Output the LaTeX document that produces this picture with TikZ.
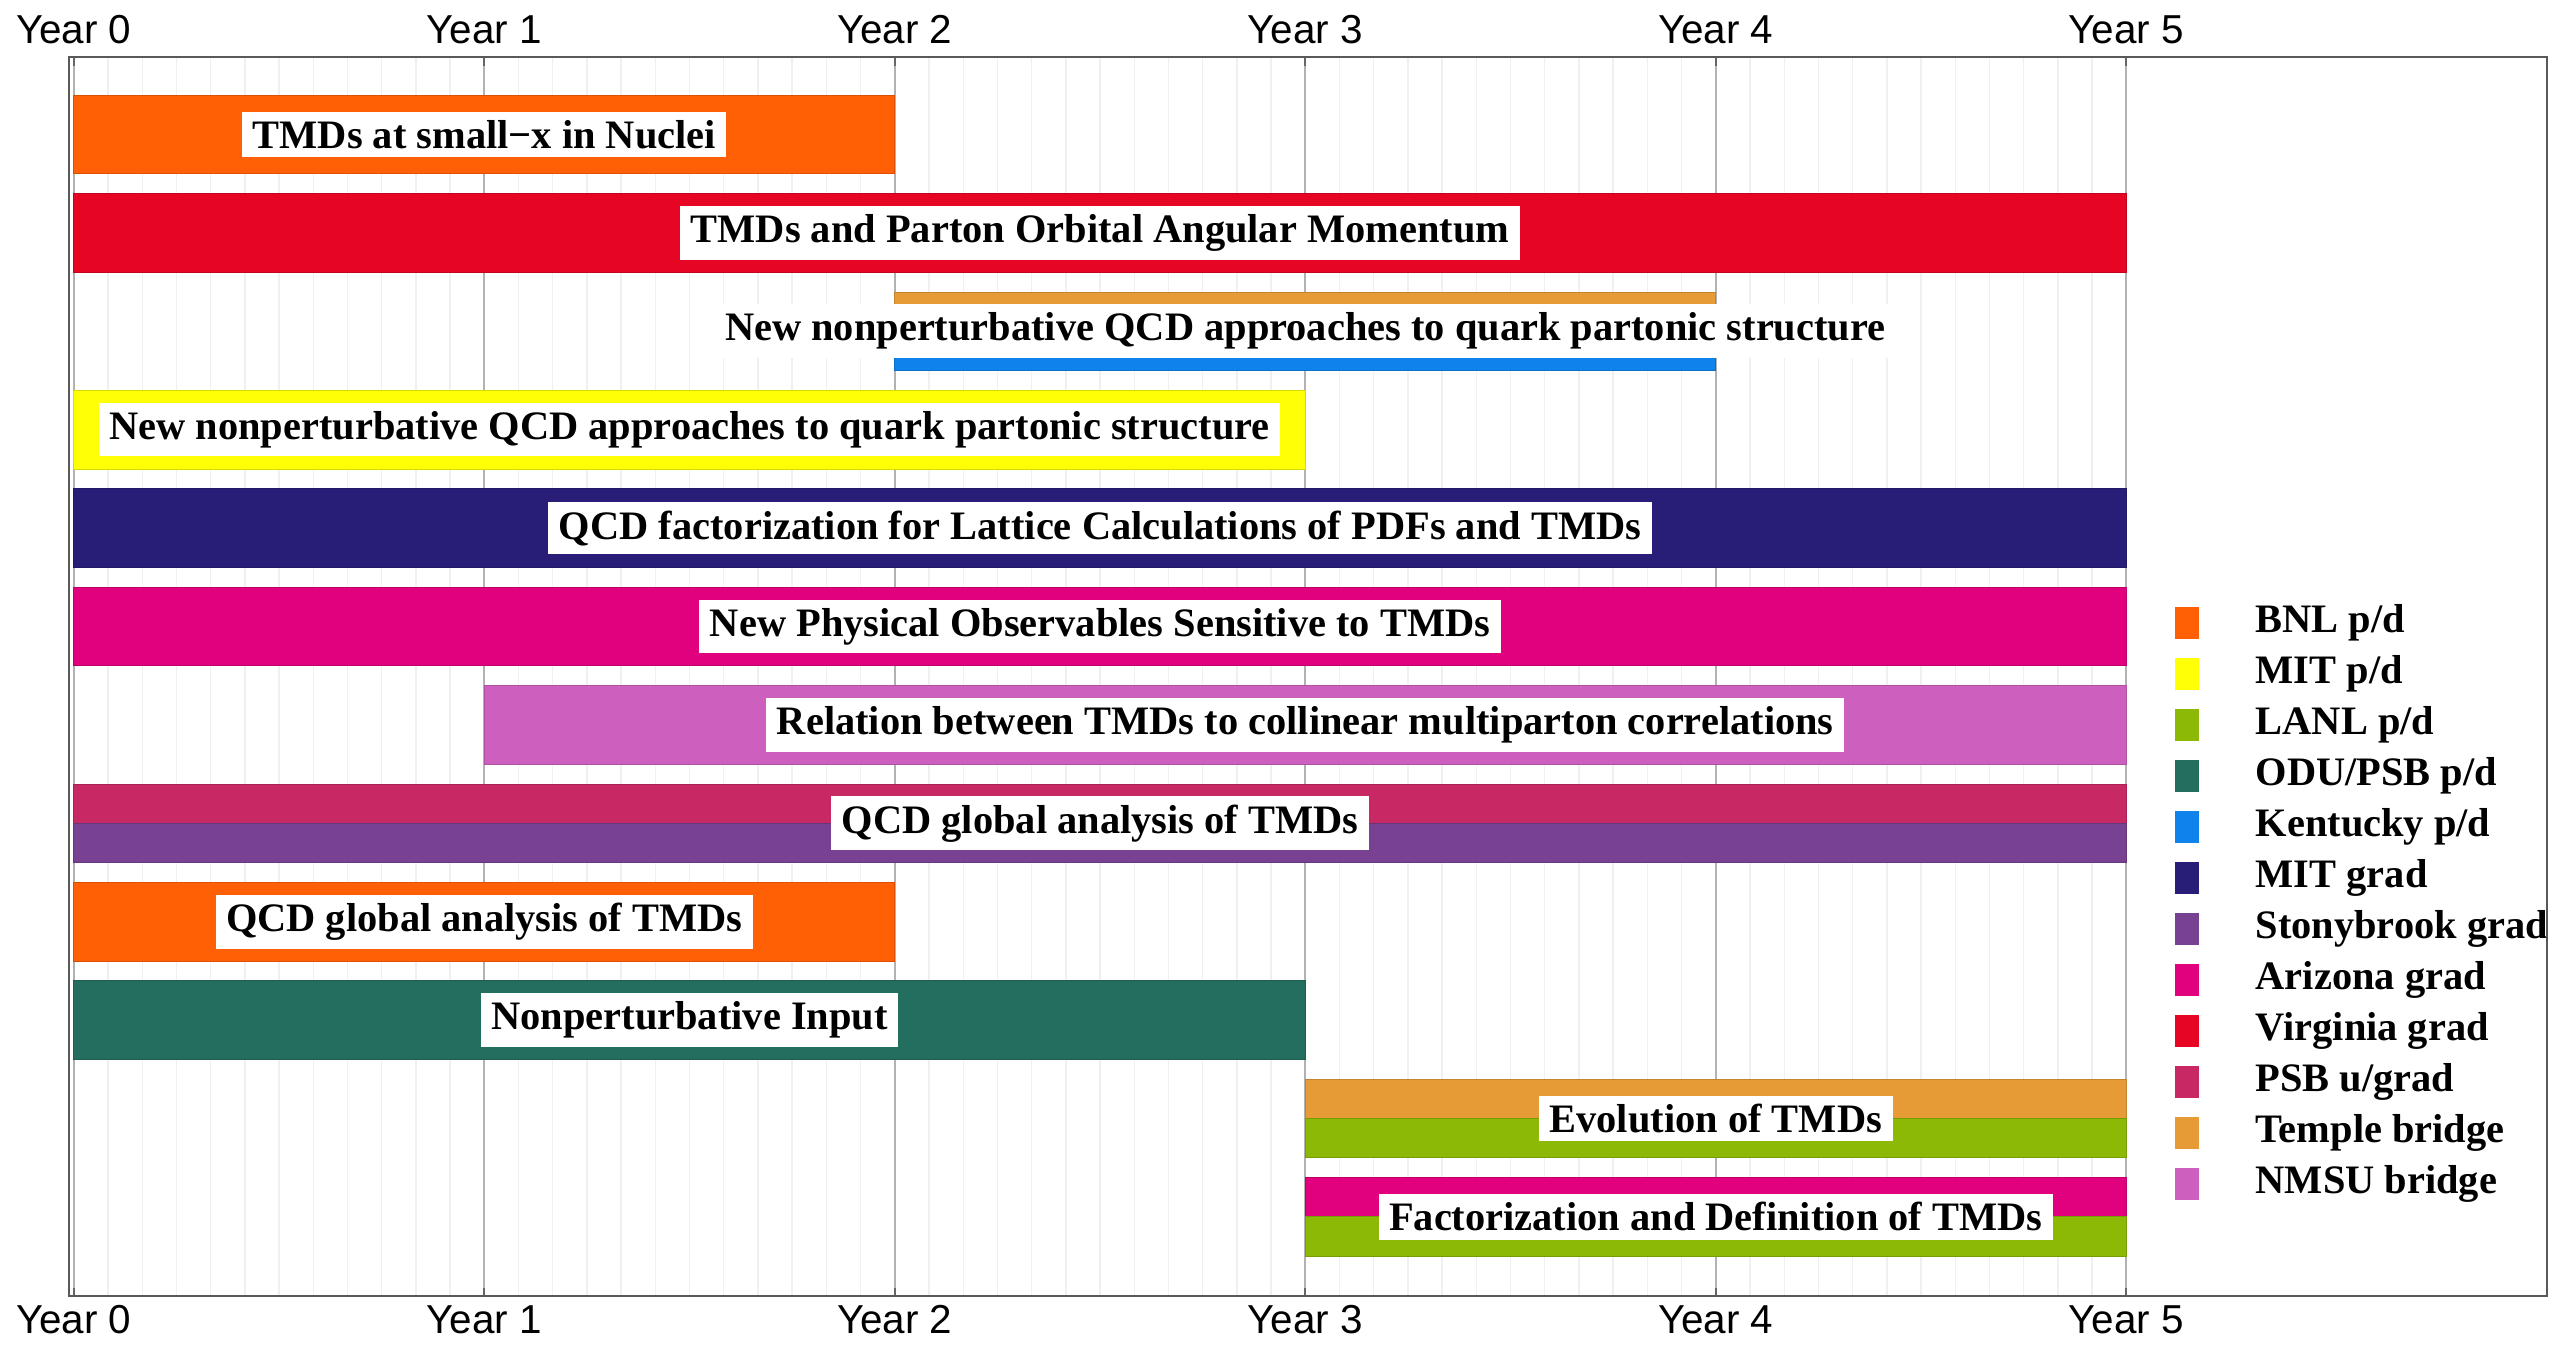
\documentclass[tikz,border=0pt]{standalone}
\usepackage{fontspec}
\setmainfont{Liberation Serif}
\setsansfont{Liberation Sans}
\usepackage{tikz}
\definecolor{bnlpd}{RGB}{255,95,5}
\definecolor{mitpd}{RGB}{255,255,5}
\definecolor{lanlpd}{RGB}{140,185,5}
\definecolor{odupd}{RGB}{35,110,95}
\definecolor{kentpd}{RGB}{15,130,235}
\definecolor{mitgrad}{RGB}{40,30,120}
\definecolor{stonygrad}{RGB}{120,65,145}
\definecolor{azgrad}{RGB}{225,0,125}
\definecolor{vagrad}{RGB}{230,5,35}
\definecolor{psbgrad}{RGB}{200,40,100}
\definecolor{templebr}{RGB}{230,155,55}
\definecolor{nmsubr}{RGB}{205,95,190}

\begin{document}
\begin{tikzpicture}[x=4.105cm, y=-0.984cm,
    bar/.style={fill=#1, draw=#1!85!black, line width=0.2pt},
    lbl/.style={fill=white, inner xsep=3pt, inner ysep=2.4pt, font=\bfseries\fontsize{11.5}{13}\selectfont},
    yr/.style={inner sep=0pt, font=\sffamily\fontsize{11.5}{13}\selectfont},
    sw/.style={fill=#1, minimum width=0.24cm, minimum height=0.32cm, inner sep=0pt},
    leg/.style={anchor=west, inner sep=0pt, font=\bfseries\fontsize{11.5}{13}\selectfont},
    minorgrid/.style={black!6, line width=0.4pt},
    majorgrid/.style={black!30, line width=0.5pt}]
  \useasboundingbox (-0.1798,-0.3664) rectangle (6.0858,13.302);

  % grid
  \foreach \m in {1,...,59} \draw[minorgrid] (\m/12,0.217) -- (\m/12,12.804);
  \foreach \y in {0,...,5} {
    \draw[majorgrid] (\y,0.217) -- (\y,12.804);
    \draw[black!60, line width=0.6pt] (\y,0.217) -- (\y,0.3);
    \draw[black!60, line width=0.6pt] (\y,12.804) -- (\y,12.72);
    \node[yr] (top\y) at (\y,-0.067) {Year \y};
    \node[yr] (bot\y) at (\y,13.048) {Year \y};
  }

  % full bars
  \foreach \r/\a/\b/\c in {1/0/2/bnlpd, 2/0/5/vagrad, 4/0/3/mitpd, 5/0/5/mitgrad,
      6/0/5/azgrad, 7/1/5/nmsubr, 9/0/2/bnlpd, 10/0/3/odupd}
    \draw[bar=\c] (\a,\r-0.4) rectangle (\b,\r+0.4);
  % shared bars
  \draw[bar=templebr] (2,2.6) rectangle (4,2.8);
  \draw[bar=kentpd] (2,3.2) rectangle (4,3.4);
  \foreach \r/\a/\c/\d in {8/0/psbgrad/stonygrad, 11/3/templebr/lanlpd, 12/3/azgrad/lanlpd} {
    \draw[bar=\c] (\a,\r-0.4) rectangle (5,\r);
    \draw[bar=\d] (\a,\r) rectangle (5,\r+0.4);
  }

  % labels
  \node[lbl] (l1) at (1,1) {TMDs at small−x in Nuclei};
  \node[lbl] (l2) at (2.5,2) {TMDs and Parton Orbital Angular Momentum};
  \node[lbl] (l3) at (3,3) {New nonperturbative QCD approaches to quark partonic structure};
  \node[lbl] (l4) at (1.5,4) {New nonperturbative QCD approaches to quark partonic structure};
  \node[lbl] (l5) at (2.5,5) {QCD factorization for Lattice Calculations of PDFs and TMDs};
  \node[lbl] (l6) at (2.5,6) {New Physical Observables Sensitive to TMDs};
  \node[lbl] (l7) at (3,7) {Relation between TMDs to collinear multiparton correlations};
  \node[lbl] (l8) at (2.5,8) {QCD global analysis of TMDs};
  \node[lbl] (l9) at (1,9) {QCD global analysis of TMDs};
  \node[lbl] (l10) at (1.5,10) {Nonperturbative Input};
  \node[lbl] (l11) at (4,11) {Evolution of TMDs};
  \node[lbl] (l12) at (4,12) {Factorization and Definition of TMDs};

  % legend
  \foreach \k/\c/\t in {1/bnlpd/{BNL p/d}, 2/mitpd/{MIT p/d}, 3/lanlpd/{LANL p/d},
      4/odupd/{ODU/PSB p/d}, 5/kentpd/{Kentucky p/d}, 6/mitgrad/{MIT grad},
      7/stonygrad/{Stonybrook grad}, 8/azgrad/{Arizona grad}, 9/vagrad/{Virginia grad},
      10/psbgrad/{PSB u/grad}, 11/templebr/{Temple bridge}, 12/nmsubr/{NMSU bridge}} {
    \node[sw=\c] (sw\k) at (5.148,5.964+0.5183*\k-0.5183) {};
    \node[leg] (leg\k) at (5.3135,5.964+0.5183*\k-0.5183) {\t};
  }

  % frame
  \draw[black!65, line width=0.6pt] (-0.0117,0.217) rectangle (6.025,12.804);
\end{tikzpicture}
\end{document}
